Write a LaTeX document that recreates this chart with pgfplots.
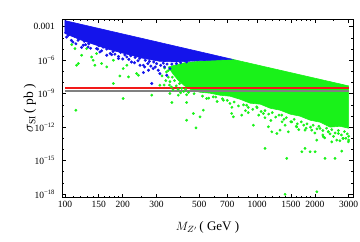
\documentclass[border=0pt]{standalone}
\usepackage{pgfplots}
\pgfplotsset{compat=1.18}
\usepackage{fontspec}
\setmainfont{Liberation Serif}
\usetikzlibrary{calc}
\definecolor{mblue}{rgb}{0.08,0.08,0.92}
\definecolor{mgreen}{rgb}{0.1,0.95,0.1}
\definecolor{mred}{rgb}{0.95,0.1,0.1}
\definecolor{mgray}{rgb}{0.5,0.5,0.5}
\begin{document}
\begin{tikzpicture}
\begin{axis}[
  scale only axis, width=291pt, height=178.5pt,
  xmode=log, ymode=log,
  xmin=96.5, xmax=3160, ymin=4.9e-19, ymax=5e-3,
  xtick={100,150,200,300,500,700,1000,1500,2000,3000},
  xticklabels={100,150,200,300,500,700,1000,1500,2000,3000},
  minor xtick={110,120,130,140,160,170,180,190,250,400,600,800,900,1100,1200,1300,1400,1600,1700,1800,1900,2500},
  ytick={1e-3,1e-6,1e-9,1e-12,1e-15,1e-18},
  yticklabels={0.001,10\textsuperscript{−6},10\textsuperscript{−9},10\textsuperscript{−12},10\textsuperscript{−15},10\textsuperscript{−18}},
  minor ytick={1e-4,1e-5,1e-7,1e-8,1e-10,1e-11,1e-13,1e-14,1e-16,1e-17},
  tick align=inside, major tick length=4pt, minor tick length=2pt,
  tick style={black, line width=0.6pt},
  axis line style={line width=0.8pt},
  ticklabel style={font=\fontsize{9.5}{11}\selectfont},
  yticklabel style={xshift=-3.5pt},
  xlabel={$M_{Z'}$\,( GeV )},
  ylabel={$\sigma_{\mathrm{SI}}$\,( pb )},
  xlabel style={at={(rel axis cs:0.5,-0.17)}, anchor=center, font=\fontsize{13}{15}\selectfont},
  ylabel style={at={(rel axis cs:-0.11,0.5)}, anchor=center, font=\fontsize{13.5}{15}\selectfont},
  clip=true,
]
% dense green region
\addplot[fill=mgreen, draw=mgreen, line width=0.6pt] coordinates {
(741,1.24e-6) (3000,5.0e-9) (3000,8e-13) (2700,1.2e-12) (2400,1.0e-12) (2130,2.8e-12)
(1890,4.2e-12) (1675,9.7e-12) (1490,1.46e-11) (1320,3.3e-11) (1170,5.0e-11) (1040,1.15e-10)
(920,1.41e-10) (815,3.2e-10) (723,5.97e-10) (641,7.3e-10) (569,1.11e-9) (505,1.36e-9)
(460,2.0e-9) (420,5e-9) (390,1.5e-8) (365,6e-8) (345,2.5e-7) (420,6e-7) (569,1.0e-6)
} -- cycle;
% scattered green points
\addplot[only marks, mark=*, mark size=1.2pt, color=mgreen] coordinates {
(108.4,2.54e-5) (112.7,1.11e-5) (115,3.56e-7) (117.3,5.1e-7) (122,2.8e-6) (129.7,1.11e-5)
(137.7,1.97e-6) (140.3,1.0e-6) (146,4.0e-6) (143,3.56e-7) (155,5.1e-7) (165,2.5e-7)
(178.5,1.0e-6) (193,3.9e-8) (201,1.8e-7) (214,3.2e-8) (210,3.56e-7) (236,6.4e-8)
(241,4.5e-8) (178.5,8.2e-9) (201,3.7e-10) (114,3.3e-11) (283,7.3e-10) (312,5.8e-9)
(352,1.05e-9) (360,1.63e-10) (389,7.3e-10) (430,1.63e-10) (430,4.2e-12) (466,1.69e-11)
(481,8.7e-13) (525,3.3e-11) (505,8.4e-12) (547,3.7e-10)
(330,2e-7) (338,9e-8) (345,3e-8) (352,1.2e-8) (358,4e-9) (365,2.2e-9) (372,1.5e-8)
(380,5e-9) (388,2.5e-9) (395,8e-9) (405,3e-9) (415,1.6e-9) (425,2.5e-9) (440,1.3e-9)
(320,4e-8) (335,1.5e-8) (350,6e-9) (328,6e-9) (362,3e-8) (375,1e-7) (345,1.2e-7)
(592,5.2e-10) (668,2.6e-10) (723,1.33e-10) (738,1.69e-11) (753,8.4e-12) (832,1.19e-11)
(883,9.3e-11) (957,1.51e-12) (996,6.6e-11) (1079,1.69e-11) (1101,1.24e-14) (1146,1.07e-12)
(1194,3.8e-13) (1268,2.7e-13) (1318,5.4e-13) (1428,1.58e-15) (1399,9.5e-19) (2047,1.6e-18)
(1710,6.2e-15) (1778,1.24e-14) (1888,6.2e-15) (2005,6.2e-15) (2260,1.58e-15) (2547,1.58e-15)
(2761,7.1e-15) (2047,6.9e-14) (2215,1.36e-13) (2449,4.8e-14) (2600,6.9e-14) (2813,9.7e-14)
(2990,4.8e-14) (1455,3.8e-13) (1516,3.0e-12) (1345,1.19e-11) (1610,1.07e-12) (1778,5.4e-13)
(1926,5.4e-13) (2129,7.7e-13) (2351,3.8e-13) (2649,2.7e-13)
(400,1.2e-9) (430,8e-10) (470,1.0e-9) (520,6e-10) (560,4e-10) (610,5e-10) (660,3.5e-10)
(700,2.5e-10) (760,1.8e-10) (800,8e-11) (850,1.0e-10) (900,6e-11) (950,4e-11) (1000,5.5e-11)
(1050,2.5e-11) (1100,3e-11) (1150,1.5e-11) (1200,2e-11) (1250,8e-12) (1300,1.2e-11)
(1380,5e-12) (1420,7e-12) (1500,3e-12) (1560,5e-12) (1620,2e-12) (1700,3e-12) (1750,1.5e-12)
(1820,2e-12) (1900,1e-12) (1960,1.5e-12) (2050,7e-13) (2100,1.2e-12) (2200,5e-13) (2300,8e-13)
(2350,4e-13) (2450,6e-13) (2550,3e-13) (2650,5e-13) (2750,2e-13) (2850,4e-13) (2950,2.5e-13)
(3000,1.5e-13) (2900,1e-13) (2500,1.5e-13) (2200,2e-13) (1800,8e-13) (1600,1.2e-12)
(1350,3e-12) (1100,7e-12) (900,2e-11)
(620,2e-10) (740,6e-11) (870,3e-11) (1020,1.2e-11) (1180,4e-12) (1400,1.5e-12) (1650,6e-13)
(2000,3e-13) (2400,2.5e-13) (2800,1e-13) (3000,7e-14) (2700,6e-14) (2250,1.1e-13)
};
% dense blue region
\addplot[fill=mblue, draw=mblue, line width=0.6pt] coordinates {
(100,3.6e-3) (741,1.24e-6) (569,1.0e-6) (464,8.5e-7) (383,7e-7) (312,8e-7) (255,1.5e-6)
(210,3.5e-6) (171,9e-6) (140,2.8e-5) (120,7e-5) (100,2.5e-4)
} -- cycle;
% scattered blue points
\addplot[only marks, mark=*, mark size=1.3pt, color=mblue] coordinates {
(104,1.73e-4) (110,4.3e-5) (117,6.2e-5) (124.5,2.2e-5) (132,1.55e-5) (146,1.11e-5)
(152,5.5e-6) (165,2.8e-6) (175,3.2e-6) (190,1.42e-6) (210,1.97e-6) (222,7.0e-7)
(246,3.56e-7) (256,3.56e-7) (272,1.27e-7) (288,1.8e-7) (306,1.27e-7) (312,6.4e-8)
(256,7.9e-8) (283,8.2e-9) (339,4.5e-8) (352,1.8e-7)
(105,2.5e-4) (112,1.5e-4) (118,8e-5) (126,5e-5) (133,3e-5) (138,4.5e-5) (150,2e-5)
(158,1.5e-5) (165,1.0e-5) (178,6e-6) (185,9e-6) (195,5e-6) (205,3e-6) (220,2.5e-6)
(232,1.8e-6) (245,1.5e-6) (262,1.0e-6) (275,8e-7) (290,7e-7) (300,5e-7) (325,5.5e-7)
(340,4.5e-7) (108,6e-5) (128,2.5e-5) (148,1.0e-5) (172,4e-6) (190,2.2e-6) (240,9e-7)
(270,5e-7) (101,3e-4) (102,1.2e-4) (114,3e-5) (122,1.4e-5) (136,1.2e-5) (155,7e-6)
(182,3.5e-6) (200,1.3e-6) (215,1.2e-6) (230,6e-7) (260,2.5e-7) (280,3e-7) (295,2.5e-7)
(315,3.5e-7) (330,2.5e-7) (360,4.5e-7) (380,5e-7) (400,6e-7) (430,7e-7)
};
% limit lines
\addplot[draw=mgray, line width=1.6pt] coordinates {(100,1.85e-9) (3000,1.85e-9)};
\addplot[draw=mred, line width=1.5pt] coordinates {(100,3.4e-9) (3000,3.4e-9)};
\end{axis}
\pgfresetboundingbox
\path[use as bounding box] ($(current axis.south west)+(-62pt,-43.5pt)$) rectangle ($(current axis.north east)+(7pt,19pt)$);
\end{tikzpicture}
\end{document}
